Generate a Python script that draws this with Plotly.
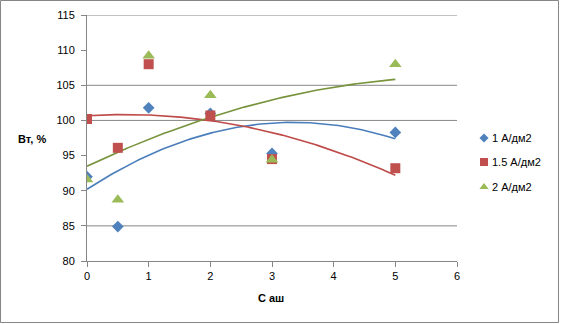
import numpy as np
import plotly.graph_objects as go

# Concentration (x) and yield values for three current densities
c_ash = [0, 0.5, 1, 2, 3, 5]
series_names = ["1 А/дм2", "1.5 А/дм2", "2 А/дм2"]
vt_1 = [92.0, 84.9, 101.8, 101.0, 95.3, 98.3]
vt_15 = [100.2, 96.1, 108.0, 100.7, 94.5, 93.2]
vt_2 = [91.6, 88.7, 109.2, 103.6, 94.4, 108.0]

y_ticks = [80, 85, 90, 95, 100, 105, 110, 115]
x_ticks = [0, 1, 2, 3, 4, 5, 6]
grid_levels = [85, 100, 105, 115]

marker_colors = ["#4F81BD", "#C0504D", "#9BBB59"]
trend_colors = ["#4A7EBB", "#BE4B48", "#77933C"]
symbols = ["diamond", "square", "triangle-up"]
sizes = [9, 10, 11]
legend_sizes = [7, 8, 8]

W, H = 561, 324
# plot area in pixels
PX0, PX1, PY0, PY1 = 87, 457, 15, 261
# legend layout in pixels
LEG_X = 484
LEG_Y = [138, 162, 187]

fig = go.Figure()

for lvl in grid_levels:
    fig.add_shape(type="line", xref="x", yref="y", x0=0, x1=6, y0=lvl, y1=lvl,
                  line=dict(color="#868686", width=1), layer="below")

xs = np.linspace(0, 5, 120)
for vals, tc in zip([vt_1, vt_15, vt_2], trend_colors):
    coef = np.polyfit(c_ash, vals, 2)
    fig.add_trace(go.Scatter(x=xs, y=np.polyval(coef, xs), mode="lines",
                             line=dict(color=tc, width=1.6), showlegend=False,
                             hoverinfo="skip"))

for vals, name, col, sym, sz in zip([vt_1, vt_15, vt_2], series_names,
                                    marker_colors, symbols, sizes):
    fig.add_trace(go.Scatter(x=c_ash, y=vals, mode="markers", name=name,
                             marker=dict(color=col, symbol=sym, size=sz,
                                         line=dict(width=0)),
                             showlegend=False))

# legend keys drawn on a pixel-space overlay axis
for name, col, sym, sz, ly in zip(series_names, marker_colors, symbols,
                                  legend_sizes, LEG_Y):
    fig.add_trace(go.Scatter(x=[LEG_X], y=[ly], mode="markers",
                             marker=dict(color=col, symbol=sym, size=sz,
                                         line=dict(width=0)),
                             xaxis="x2", yaxis="y2", showlegend=False,
                             hoverinfo="skip"))
    fig.add_annotation(text=name, xref="x2", yref="y2", x=LEG_X + 6, y=ly,
                       xanchor="left", yanchor="middle", showarrow=False,
                       font=dict(size=11, color="#000000"))

fig.add_annotation(text="<b>Вт, %</b>", xref="x2", yref="y2", x=48, y=139,
                   xanchor="right", yanchor="middle", showarrow=False,
                   font=dict(size=11))
fig.add_annotation(text="<b>С аш</b>", xref="x2", yref="y2", x=271, y=298,
                   xanchor="center", yanchor="middle", showarrow=False,
                   font=dict(size=11))

fig.add_shape(type="rect", xref="x2", yref="y2", x0=0.5, x1=W - 2.5,
              y0=0.5, y1=H - 1.5, line=dict(color="#868686", width=1))

fig.update_layout(
    width=W, height=H,
    margin=dict(l=0, r=0, t=0, b=0, autoexpand=False),
    paper_bgcolor="white", plot_bgcolor="rgba(0,0,0,0)",
    showlegend=False,
    font=dict(family="Liberation Sans", size=11, color="#000000"),
    xaxis=dict(domain=[PX0 / W, PX1 / W], range=[0, 6], tickvals=x_ticks,
               showgrid=False, zeroline=False, showline=True,
               linecolor="#868686", linewidth=1, ticks="outside", ticklen=5,
               tickcolor="#868686", anchor="y"),
    yaxis=dict(domain=[1 - PY1 / H, 1 - PY0 / H], range=[80, 115],
               tickvals=y_ticks, showgrid=False, zeroline=False,
               showline=True, linecolor="#868686", linewidth=1,
               ticks="outside", ticklen=5, tickcolor="#868686",
               ticklabelstandoff=4, anchor="x"),
    xaxis2=dict(domain=[0, 1], range=[0, W], visible=False, anchor="y2"),
    yaxis2=dict(domain=[0, 1], range=[H, 0], visible=False, anchor="x2"),
)

fig.write_html("out.html")
